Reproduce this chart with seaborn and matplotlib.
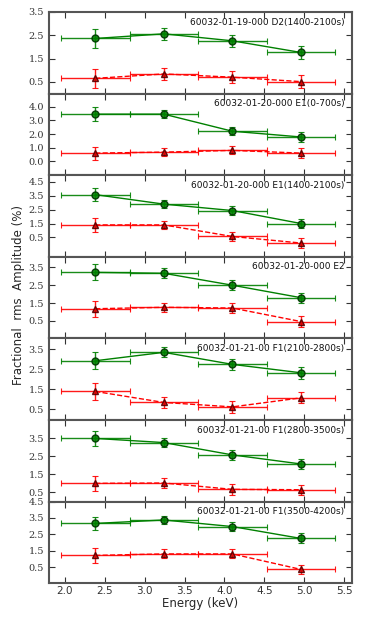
import numpy as np
import pandas as pd
import matplotlib
matplotlib.use("Agg")
import matplotlib.pyplot as plt
import seaborn as sns

sns.set_style("ticks")
plt.rcParams['font.family'] = ['DejaVu Sans']

energy = [2.38, 3.24, 4.10, 4.96]
energy_err = [0.43, 0.43, 0.43, 0.43]

titles = [
    "60032-01-19-000 D2(1400-2100s)",
    "60032-01-20-000 E1(0-700s)",
    "60032-01-20-000 E1(1400-2100s)",
    "60032-01-20-000 E2",
    "60032-01-21-00 F1(2100-2800s)",
    "60032-01-21-00 F1(2800-3500s)",
    "60032-01-21-00 F1(3500-4200s)",
]

green_vals = [
    [2.36, 2.56, 2.26, 1.76],
    [3.46, 3.46, 2.21, 1.79],
    [3.57, 2.89, 2.43, 1.50],
    [3.22, 3.17, 2.50, 1.80],
    [2.93, 3.35, 2.75, 2.33],
    [3.48, 3.25, 2.57, 2.07],
    [3.17, 3.38, 2.98, 2.26],
]
green_errs = [
    [0.42, 0.25, 0.27, 0.29],
    [0.50, 0.28, 0.28, 0.35],
    [0.49, 0.30, 0.31, 0.33],
    [0.45, 0.28, 0.28, 0.29],
    [0.42, 0.25, 0.28, 0.29],
    [0.43, 0.25, 0.28, 0.28],
    [0.42, 0.25, 0.27, 0.30],
]
red_vals = [
    [0.65, 0.84, 0.70, 0.51],
    [0.61, 0.68, 0.81, 0.61],
    [1.40, 1.40, 0.57, 0.10],
    [1.18, 1.26, 1.22, 0.46],
    [1.40, 0.85, 0.63, 1.08],
    [1.00, 1.02, 0.67, 0.65],
    [1.23, 1.32, 1.32, 0.38],
]
red_errs = [
    [0.42, 0.26, 0.25, 0.27],
    [0.47, 0.30, 0.30, 0.36],
    [0.48, 0.28, 0.30, 0.35],
    [0.45, 0.27, 0.29, 0.31],
    [0.42, 0.27, 0.29, 0.28],
    [0.40, 0.25, 0.30, 0.28],
    [0.43, 0.27, 0.27, 0.28],
]

ylims = [(0, 3.5), (-1.0, 4.97), (-0.88, 4.97), (-0.48, 4.1), (-0.02, 4.05), (0.0, 4.5), (-0.45, 4.5)]
yticks = [
    [0.5, 1.5, 2.5, 3.5],
    [0.0, 1.0, 2.0, 3.0, 4.0],
    [0.5, 1.5, 2.5, 3.5, 4.5],
    [0.5, 1.5, 2.5, 3.5],
    [0.5, 1.5, 2.5, 3.5],
    [0.5, 1.5, 2.5, 3.5],
    [0.5, 1.5, 2.5, 3.5, 4.5],
]
xticks = [2.0, 2.5, 3.0, 3.5, 4.0, 4.5, 5.0, 5.5]

fig, axes = plt.subplots(7, 1, figsize=(3.92, 6.27), dpi=100, sharex=True)
fig.subplots_adjust(left=0.125, right=0.898, top=0.981, bottom=0.070, hspace=0)

for i, ax in enumerate(axes):
    df = pd.DataFrame({"E": energy, "g": green_vals[i], "r": red_vals[i]})
    sns.lineplot(data=df, x="E", y="g", ax=ax, color="green", lw=1.0, legend=False)
    sns.lineplot(data=df, x="E", y="r", ax=ax, color="red", lw=1.0, ls="--", legend=False)
    ax.errorbar(energy, green_vals[i], xerr=energy_err, yerr=green_errs[i], fmt="o",
                color="green", ecolor="green", mfc="green", mec="#003300", ms=5,
                capsize=2.5, elinewidth=1.0, capthick=0.8, alpha=0.9)
    ax.errorbar(energy, red_vals[i], xerr=energy_err, yerr=red_errs[i], fmt="^",
                color="red", ecolor="red", mfc="#dd0000", mec="#550000", ms=5,
                capsize=2.5, elinewidth=1.0, capthick=0.8, alpha=0.9)
    ax.set_ylim(*ylims[i])
    ax.set_yticks(yticks[i])
    ax.set_yticklabels([f"{t:.1f}" for t in yticks[i]], family="DejaVu Serif", fontsize=7)
    ax.set_xlim(1.8, 5.6)
    ax.set_xticks(xticks)
    ax.tick_params(direction="in", top=True, right=True, length=4, width=0.8, colors="#333333")
    ax.tick_params(axis="x", pad=2)
    ax.set_ylabel("")
    ax.set_xlabel("")
    for s in ax.spines.values():
        s.set_linewidth(1.5)
        s.set_color("#555555")
    ax.text(0.975, 0.93, titles[i], transform=ax.transAxes, ha="right", va="top",
            fontsize=6.5, color="#111111")

axes[-1].set_xticklabels([f"{t:.1f}" for t in xticks], fontsize=7.5)
axes[-1].set_xlabel("Energy (keV)", fontsize=8.5, labelpad=1)
fig.text(0.047, 0.53, "Fractional  rms  Amplitude (%)", rotation=90, ha="center", va="center",
         fontsize=8.5)

fig.savefig("out.png", dpi=100)
